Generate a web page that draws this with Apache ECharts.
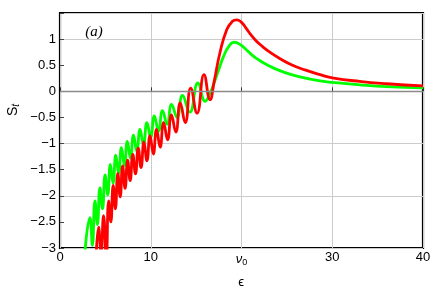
<!DOCTYPE html>
<html>
<head>
<meta charset="utf-8">
<script src="https://cdn.jsdelivr.net/npm/echarts@6/dist/echarts.min.js"></script>
<style>html,body{margin:0;padding:0;background:#fff}#c{width:436px;height:300px}</style>
</head>
<body>
<div id="c"></div>
<script>
// ---- data: [epsilon, S_t] ----
const redSt = [
  [3.95,-3.3],[4.25,-2.6],[4.52,-3.1],[4.8,-2.38],[5.1,-3.2],[5.36,-2.1],[5.6,-2.5],[5.86,-1.8],
  [6.1,-2.25],[6.37,-1.57],[6.63,-2.02],[6.9,-1.43],[7.17,-1.86],[7.45,-1.32],[7.73,-1.71],[8.02,-1.21],
  [8.32,-1.58],[8.62,-1.09],[8.93,-1.46],[9.25,-0.97],[9.58,-1.33],[9.92,-0.85],[10.28,-1.2],[10.64,-0.73],
  [11.03,-1.07],[11.42,-0.6],[11.85,-0.93],[12.28,-0.45],[12.76,-0.78],[13.25,-0.22],[13.8,-0.6],[14.4,0.06],
  [15.1,-0.42],[15.87,0.32],[16.53,-0.16],[17.0,0.2],[17.6,0.72],[18.37,1.18],[19.0,1.34],[19.47,1.37],
  [20.0,1.32],[20.5,1.21],[21.0,1.09],[21.6,0.97],[22.3,0.86],[23.2,0.74],[24.2,0.63],[25.5,0.51],
  [27,0.41],[28.65,0.32],[30,0.26],[33,0.19],[36,0.145],[40,0.105]
];
const greenSt = [
  [2.6,-3.4],[3.3,-2.42],[3.57,-2.95],[3.85,-2.1],[4.12,-2.55],[4.4,-1.85],[4.68,-2.25],[4.97,-1.6],
  [5.26,-1.98],[5.55,-1.4],[5.85,-1.76],[6.15,-1.22],[6.46,-1.57],[6.77,-1.08],[7.1,-1.42],[7.42,-0.96],
  [7.76,-1.28],[8.1,-0.84],[8.46,-1.15],[8.82,-0.73],[9.2,-1.03],[9.58,-0.6],[9.99,-0.88],[10.4,-0.47],
  [10.85,-0.76],[11.3,-0.37],[11.8,-0.63],[12.3,-0.25],[12.9,-0.5],[13.5,-0.08],[14.3,-0.4],[15.2,0.16],
  [16.0,-0.19],[16.5,-0.05],[17.0,0.17],[17.5,0.42],[18.0,0.66],[18.6,0.86],[19.2,0.94],[19.9,0.89],
  [20.5,0.8],[21.2,0.69],[22.0,0.59],[22.8,0.51],[24,0.41],[25.5,0.32],[27,0.255],[28.65,0.2],[30,0.17],
  [33,0.125],[36,0.09],[40,0.065]
];
const xTickValues = [0,10,20,30,40];
const xTickLabels = ['0','10','{nu|ν}{sub|0}','30','40'];
const yTickValues = [1,0.5,0,-0.5,-1,-1.5,-2,-2.5,-3];
const yTickLabels = ['1','0.5','0','−0.5','−1','−1.5','−2','−2.5','−3'];
const xName = 'ϵ';
const panelLabel = '(a)';

const font = 'Liberation Sans';
const chart = echarts.init(document.getElementById('c'), null, {renderer:'canvas'});
chart.setOption({
  animation:false,
  backgroundColor:'#fff',
  grid:{left:60,right:13,top:13,bottom:52,show:true,borderColor:'#000',borderWidth:2.2,backgroundColor:'transparent'},
  xAxis:{type:'value',min:0,max:40,interval:10,
    axisLine:{show:false},
    axisTick:{show:true,inside:true,length:4,lineStyle:{color:'#333',width:1}},
    splitLine:{show:true,lineStyle:{color:'#cccccc',width:1}},
    axisLabel:{margin:3,fontFamily:font,fontSize:13,color:'#000',
      formatter:v=>{const i=xTickValues.indexOf(v);return i>=0?xTickLabels[i]:'';},
      rich:{nu:{fontFamily:font,fontStyle:'italic',fontSize:13,color:'#000'},
            sub:{fontFamily:font,fontSize:9,color:'#000',padding:[7,0,0,0]}}}
  },
  yAxis:[{type:'value',min:-3,max:1.5,interval:0.5,
    axisLine:{show:false},
    axisTick:{show:true,inside:true,length:4,lineStyle:{color:'#444',width:1}},
    splitLine:{show:false},
    axisLabel:{margin:4,fontFamily:font,fontSize:13,color:'#000',
      formatter:v=>{const i=yTickValues.indexOf(v);return i>=0?yTickLabels[i]:'';}}
  },{type:'value',min:-3,max:1.5,interval:1,position:'left',
    axisLine:{show:false},axisTick:{show:false},axisLabel:{show:false},
    splitLine:{show:true,lineStyle:{color:'#cccccc',width:1}}
  }],
  graphic:[
    {type:'text',x:241,y:282,style:{text:xName,fontFamily:font,fontSize:13,fill:'#000',align:'center',verticalAlign:'middle'}},
    {type:'text',x:13,y:110,rotation:Math.PI/2,style:{text:'{s|S}{t|t}',fontFamily:font,fontSize:14,fill:'#000',align:'center',verticalAlign:'middle',
      rich:{s:{fontFamily:font,fontSize:14,fill:'#000'},t:{fontFamily:font,fontStyle:'italic',fontSize:10,fill:'#000',padding:[7,0,0,0]}}}},
    {type:'text',x:94,y:32,style:{text:panelLabel,fontFamily:'Liberation Serif',fontStyle:'italic',fontSize:15,fill:'#000',align:'center',verticalAlign:'middle'}}
  ],
  series:[
    {type:'line',data:greenSt,smooth:0.5,showSymbol:false,clip:true,
      lineStyle:{color:'#00ff00',width:2.8},
      markLine:{silent:true,symbol:'none',label:{show:false},lineStyle:{color:'#8a8a8a',width:1.4,type:'solid'},data:[{yAxis:0}]},
      z:3},
    {type:'line',data:redSt,smooth:0.5,showSymbol:false,clip:true,
      lineStyle:{color:'#ff0000',width:2.8},z:4}
  ]
});
</script>
</body>
</html>
